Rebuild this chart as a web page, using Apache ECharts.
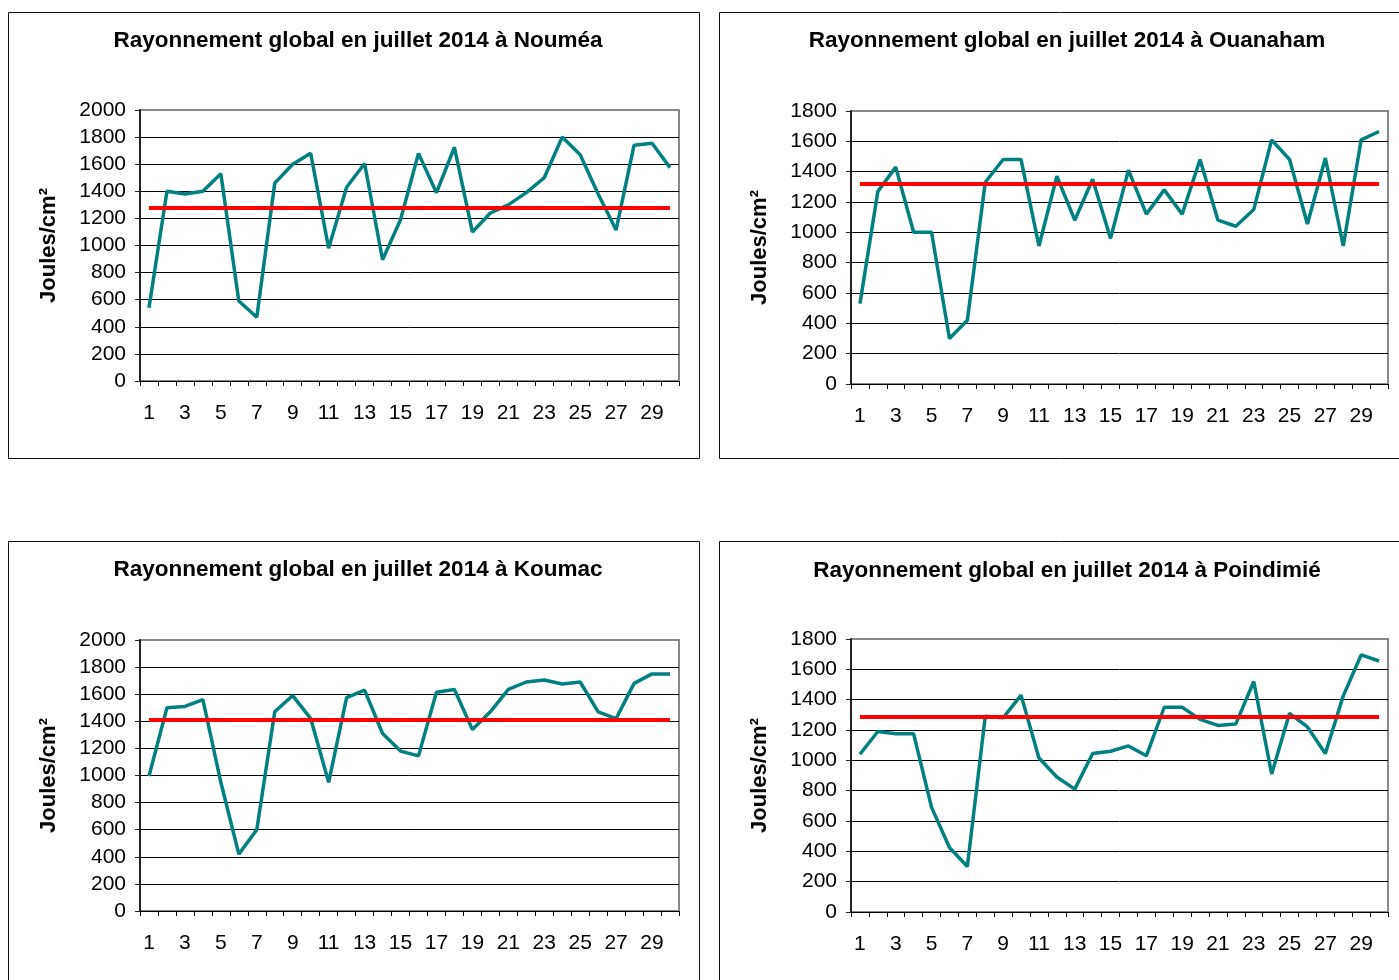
<!DOCTYPE html>
<html>
<head>
<meta charset="utf-8">
<script src="https://cdn.jsdelivr.net/npm/echarts@6/dist/echarts.min.js"></script>
<style>
html,body{margin:0;padding:0;background:#fff;}
#c{width:1399px;height:980px;}
</style>
</head>
<body>
<div id="c"></div>
<script>
const days = ['1','2','3','4','5','6','7','8','9','10','11','12','13','14','15','16','17','18','19','20','21','22','23','24','25','26','27','28','29','30'];
const noumea = [540,1400,1380,1400,1530,590,470,1460,1600,1680,980,1430,1605,895,1190,1680,1390,1725,1100,1240,1300,1390,1500,1800,1670,1380,1115,1740,1755,1575];
const ouanaham = [530,1270,1430,1000,1000,300,420,1330,1480,1480,910,1370,1080,1350,960,1410,1120,1280,1120,1480,1080,1040,1150,1610,1480,1055,1490,910,1610,1665];
const koumac = [995,1500,1510,1560,950,420,600,1470,1590,1420,950,1575,1630,1310,1180,1145,1615,1635,1340,1470,1635,1690,1705,1675,1690,1470,1420,1680,1750,1750];
const poindimie = [1040,1190,1175,1175,690,425,300,1290,1280,1430,1015,890,810,1045,1060,1095,1030,1350,1350,1270,1230,1240,1520,910,1310,1220,1045,1425,1695,1655];
const means = [1280, 1320, 1410, 1290];
const titles = ['Rayonnement global en juillet 2014 à Nouméa','Rayonnement global en juillet 2014 à Ouanaham','Rayonnement global en juillet 2014 à Koumac','Rayonnement global en juillet 2014 à Poindimié'];
const yMax = [2000, 1800, 2000, 1800];
const yName = 'Joules/cm²';
const seriesData = [noumea, ouanaham, koumac, poindimie];

const FONT = "'Liberation Sans', Arial, sans-serif";
const grids = [
  {left:140, top:110, width:539, height:271},
  {left:851, top:111, width:537, height:273},
  {left:140, top:640, width:539, height:271},
  {left:851, top:639, width:537, height:273}
];
const titlePos = [[353,24],[1062,24],[353,553],[1062,554]];
const boxes = [[8.5,12.5,691,446],[719.5,12.5,700,446],[8.5,541.5,691,460],[719.5,541.5,700,460]];

const option = {
  animation:false,
  backgroundColor:'#fff',
  title: titles.map((t,i)=>({
    text:t, left:titlePos[i][0], top:titlePos[i][1], textAlign:'center',
    textStyle:{fontFamily:FONT, fontWeight:'bold', fontSize:22.5, color:'#000'}
  })),
  graphic: boxes.map(b=>({type:'rect', shape:{x:b[0],y:b[1],width:b[2],height:b[3]}, style:{fill:'none', stroke:'#111', lineWidth:1}, z:-1})),
  grid: grids.map(g=>Object.assign({show:true, borderColor:'#888', borderWidth:2, backgroundColor:'transparent'}, g)),
  xAxis: grids.map((g,i)=>({
    type:'category', gridIndex:i, data:days, boundaryGap:true,
    axisLine:{lineStyle:{color:'#000', width:1}},
    axisTick:{show:true, interval:0, length:5, lineStyle:{color:'#000'}},
    axisLabel:{interval:1, margin:22, fontFamily:FONT, fontSize:21, color:'#000'},
    splitLine:{show:false}
  })),
  yAxis: grids.map((g,i)=>({
    type:'value', gridIndex:i, min:0, max:yMax[i], interval:200,
    name:yName, nameLocation:'middle', nameRotate:90, nameGap:80,
    nameTextStyle:{fontFamily:FONT, fontWeight:'bold', fontSize:22, color:'#000'},
    axisLine:{show:true, lineStyle:{color:'#222', width:2}},
    axisTick:{show:true, length:5, lineStyle:{color:'#222'}},
    axisLabel:{margin:14, fontFamily:FONT, fontSize:21, color:'#000', formatter:v=>String(v)},
    splitLine:{show:true, showMaxLine:false, showMinLine:false, lineStyle:{color:'#000', width:1}}
  })),
  series: seriesData.map((d,i)=>({
    type:'line', xAxisIndex:i, yAxisIndex:i, data:d, symbol:'none',
    lineStyle:{color:'#008080', width:3.5}, itemStyle:{color:'#008080'},
    markLine:{
      silent:true, symbol:'none', animation:false,
      label:{show:false},
      lineStyle:{color:'#ff0000', width:4, type:'solid'},
      data:[[{coord:[days[0], means[i]]},{coord:[days[days.length-1], means[i]]}]]
    }
  }))
};
const chart = echarts.init(document.getElementById('c'), null, {renderer:'canvas'});
chart.setOption(option);
</script>
</body>
</html>
